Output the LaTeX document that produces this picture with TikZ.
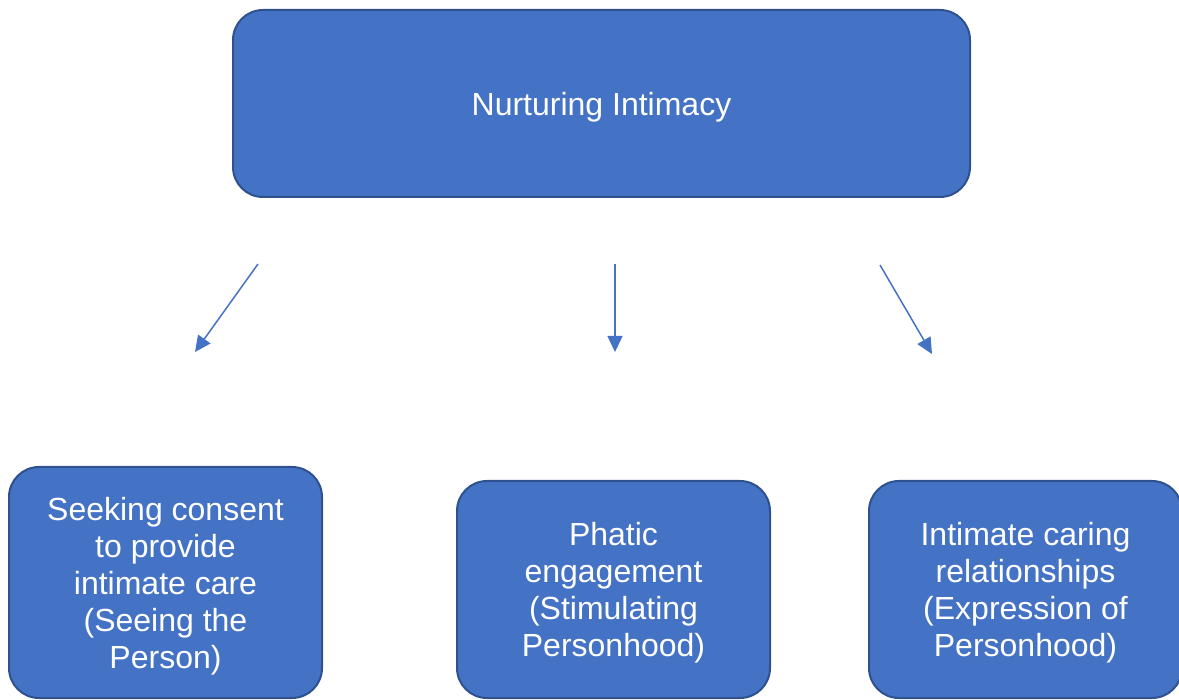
\documentclass[tikz,border=0pt]{standalone}
\usepackage{fontspec}
\setmainfont{Liberation Sans}
\usepackage{xcolor}
\usepackage{tikz}
\usetikzlibrary{arrows.meta,positioning}
\definecolor{boxfill}{HTML}{4472C4}
\definecolor{boxline}{HTML}{2F528F}

\begin{document}
\begin{tikzpicture}[
    x=1pt, y=-1pt,
    theme/.style={draw=boxline, line width=2pt, fill=boxfill, rounded corners=30pt,
      text=white, align=center, inner sep=0pt, text depth=-5pt,
      font=\fontsize{32}{37}\selectfont},
    link/.style={draw=boxfill, line width=1.5pt, -{Triangle[length=16pt,width=15pt]}}
  ]
    \useasboundingbox (0,0) rectangle (1179,700);
    \node[theme, minimum width=737pt, minimum height=187pt] (nurt) at (601.5,103.5) {Nurturing Intimacy};
    \node[theme, minimum width=313pt, minimum height=231pt] (consent) at (165.5,582.5)
      {Seeking consent\\to provide\\intimate care\\(Seeing the\\Person)};
    \node[theme, minimum width=313pt, minimum height=217pt] (phatic) at (613.5,589.5)
      {Phatic\\engagement\\(Stimulating\\Personhood)};
    \node[theme, minimum width=313pt, minimum height=217pt] (caring) at (1025.5,589.5)
      {Intimate caring\\relationships\\(Expression of\\Personhood)};
    \coordinate (l1) at (258,264);  \coordinate (l2) at (195,352);
    \coordinate (m1) at (615,264);  \coordinate (m2) at (615,352);
    \coordinate (r1) at (880,265);  \coordinate (r2) at (932,354);
    \draw[link] (l1) -- (l2);
    \draw[link] (m1) -- (m2);
    \draw[link] (r1) -- (r2);
  \end{tikzpicture}
\end{document}
